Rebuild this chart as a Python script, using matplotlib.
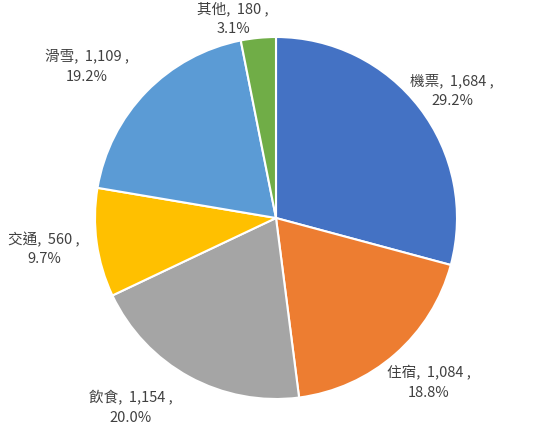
import matplotlib
matplotlib.use("Agg")
import matplotlib.pyplot as plt

plt.rcParams['font.family'] = ['Noto Sans CJK TC', 'DejaVu Sans']

# data
categories = ["機票", "住宿", "飲食", "交通", "滑雪", "其他"]
values = [1684, 1084, 1154, 560, 1109, 180]
colors = ["#4472C4", "#ED7D31", "#A5A5A5", "#FFC000", "#5B9BD5", "#70AD47"]

# label centres in pixels (x, y from top)
label_pos = [(452, 91), (429, 383), (131, 408), (44, 249), (87, 67), (233, 19)]

W, H = 549, 432
fig = plt.figure(figsize=(W / 100, H / 100), dpi=100)
ax = fig.add_axes([0, 0, 1, 1])

ax.pie(values, colors=colors, startangle=90, counterclock=False,
       center=(276, H - 218), radius=181,
       wedgeprops=dict(edgecolor="white", linewidth=1.5))

# pie() resets the limits, so set them afterwards
ax.set_xlim(0, W)
ax.set_ylim(0, H)
ax.set_aspect("equal")
ax.axis("off")

total = sum(values)
for cat, v, (px, py) in zip(categories, values, label_pos):
    pct = v / total * 100
    txt = f"{cat},  {v:,} ,\n{pct:.1f}%"
    ax.text(px, H - py, txt, ha="center", va="center", fontsize=10.5,
            color="#404040", linespacing=1.5)

fig.savefig("out.png", dpi=100)
